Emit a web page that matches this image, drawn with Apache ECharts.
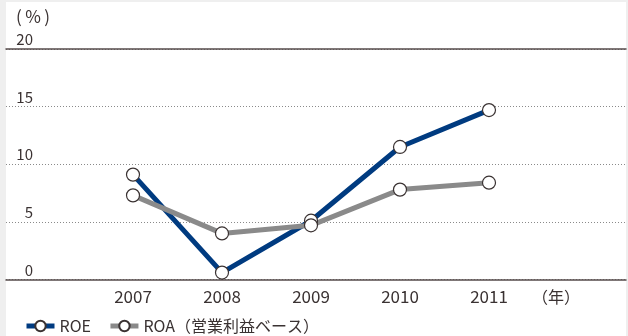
<!DOCTYPE html>
<html>
<head>
<meta charset="utf-8">
<script src="https://cdn.jsdelivr.net/npm/echarts@6/dist/echarts.min.js"></script>
<style>
  html, body { margin: 0; padding: 0; background: #efefef; }
  #chart { width: 628px; height: 336px; }
</style>
</head>
<body>
<div id="chart"></div>
<script>
// Fiscal years on the category axis
const years = ['2007', '2008', '2009', '2010', '2011'];
// Return on equity (%)
const roe = [9.1, 0.6, 5.1, 11.5, 14.7];
// Return on assets, operating-income basis (%)
const roa = [7.3, 4.0, 4.7, 7.8, 8.4];
// Value-axis ticks (%)
const yTicks = { min: 0, max: 20, interval: 5 };
const unitY = '(\u2009%\u2009)';
const unitX = '（年）';
const seriesNames = ['ROE', 'ROA（営業利益ベース）'];

const FONT = '"Noto Sans CJK JP", "Noto Sans", sans-serif';
const TEXT = '#3a3232';

const chart = echarts.init(document.getElementById('chart'));
chart.setOption({
  backgroundColor: '#efefef',
  animation: false,
  textStyle: { fontFamily: FONT, color: TEXT },
  graphic: [
    { type: 'rect', z: -10, shape: { x: 6, y: 2, width: 620, height: 334 }, style: { fill: '#ffffff' } },
    { type: 'text', left: 16, top: 8, style: { text: unitY, font: '17px ' + FONT, fill: TEXT } },
    { type: 'text', x: 556, y: 297, style: { text: unitX, font: '16px ' + FONT, fill: TEXT, align: 'center', verticalAlign: 'middle' } }
  ],
  grid: [
    // full-width frame carrying the gridlines and tick labels
    { left: 6, right: 2, top: 49, bottom: 56.5 },
    // plotting band for the yearly points
    { left: 88.5, right: 94.5, top: 49, bottom: 56.5 }
  ],
  xAxis: [
    { gridIndex: 0, type: 'value', min: 0, max: 1, position: 'bottom',
      axisLine: { show: true, lineStyle: { color: '#554b4b', width: 1.5 } },
      axisTick: { show: false }, axisLabel: { show: false }, splitLine: { show: false } },
    { gridIndex: 0, type: 'value', min: 0, max: 1, position: 'top',
      axisLine: { show: true, lineStyle: { color: '#554b4b', width: 1.5 } },
      axisTick: { show: false }, axisLabel: { show: false }, splitLine: { show: false } },
    { gridIndex: 1, type: 'category', data: years, boundaryGap: true,
      axisLine: { show: false }, axisTick: { show: false },
      axisLabel: { margin: 9, fontSize: 17, color: TEXT, fontFamily: FONT } }
  ],
  yAxis: [
    { gridIndex: 0, type: 'value', min: yTicks.min, max: yTicks.max, interval: yTicks.interval,
      axisLine: { show: false }, axisTick: { show: false },
      axisLabel: { inside: true, margin: 27, align: 'right', verticalAlign: 'bottom',
                   padding: [0, 0, 2, 0], fontSize: 15, color: TEXT, fontFamily: FONT },
      splitLine: { show: true, lineStyle: { color: '#8a8a8a', type: [1, 2], width: 1 } } },
    { gridIndex: 1, type: 'value', min: yTicks.min, max: yTicks.max, interval: yTicks.interval, show: false }
  ],
  legend: {
    left: 19, top: 313, itemWidth: 28, itemHeight: 13, itemGap: 17,
    textStyle: { fontSize: 16, color: TEXT, fontFamily: FONT },
    lineStyle: { width: 5 },
    data: seriesNames
  },
  series: [
    { name: seriesNames[0], type: 'line', xAxisIndex: 2, yAxisIndex: 1, data: roe,
      symbol: 'circle', symbolSize: 13,
      lineStyle: { color: '#003b80', width: 5 },
      itemStyle: { color: '#ffffff', borderColor: '#3a3232', borderWidth: 1.2 } },
    { name: seriesNames[1], type: 'line', xAxisIndex: 2, yAxisIndex: 1, data: roa,
      symbol: 'circle', symbolSize: 13,
      lineStyle: { color: '#8a8a8a', width: 5 },
      itemStyle: { color: '#ffffff', borderColor: '#3a3232', borderWidth: 1.2 } }
  ]
});
</script>
</body>
</html>
